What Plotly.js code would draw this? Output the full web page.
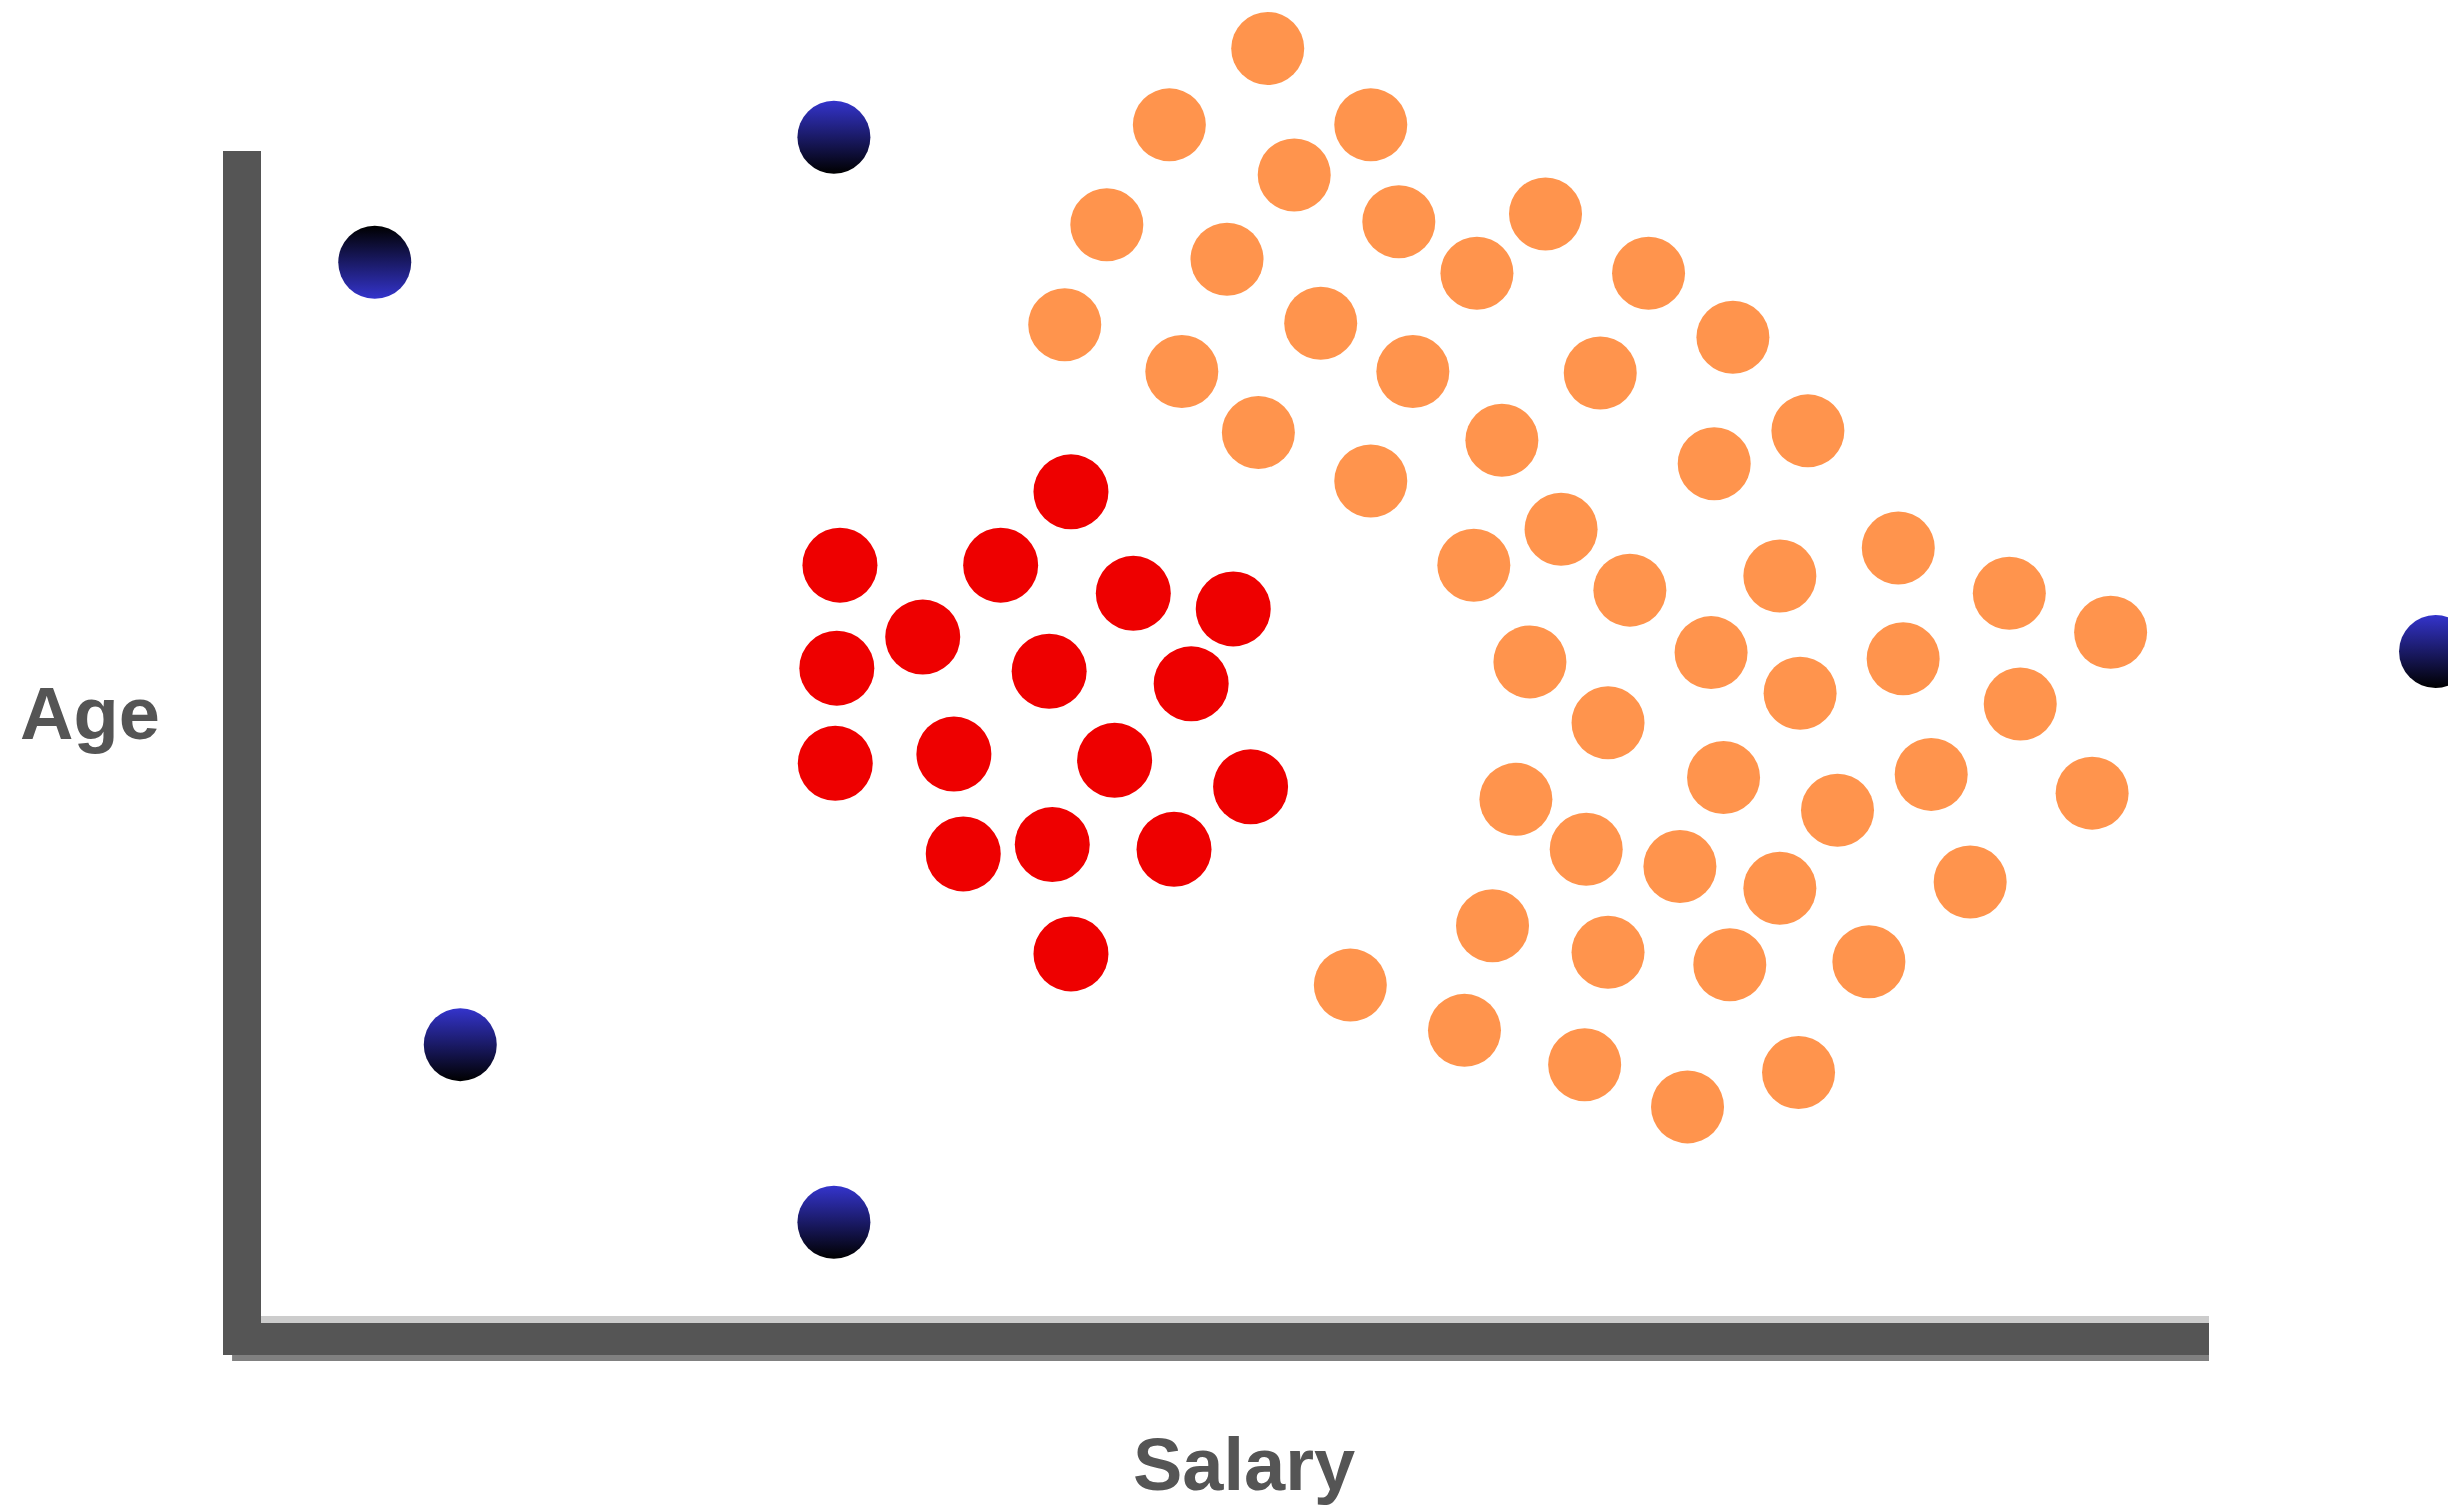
<!DOCTYPE html>
<html>
<head>
<meta charset="utf-8">
<script src="https://cdn.plot.ly/plotly-3.0.1.min.js"></script>
<style>html,body{margin:0;padding:0;background:#fff;}#chart{width:2448px;height:1505px;}</style>
</head>
<body>
<div id="chart"></div>
<script>
// Salary (x) and Age (y), in relative units (no tick labels on the chart)
const orangeSalary = [51.68,46.63,56.97,53.04,43.42,49.59,58.41,65.94,62.42,71.23,41.26,54.40,75.56,47.27,59.13,68.75,51.20,63.70,79.41,74.60,56.97,66.74,62.26,84.05,70.27,77.97,89.75,94.95,65.14,74.44,84.30,79.01,90.31,69.15,75.08,85.74,64.42,80.93,94.00,68.03,72.84,77.97,87.74,63.22,69.15,75.40,82.54,55.92,61.78,67.95,78.93,73.23];
const orangeAge =    [108.75,102.23,102.23,97.96,93.70,90.77,93.97,94.63,89.57,89.57,85.18,85.31,84.11,81.18,81.18,81.05,75.98,75.32,76.12,73.32,71.85,67.73,64.66,66.13,62.53,63.73,62.26,58.93,56.41,57.20,56.67,53.74,52.81,51.21,46.54,46.81,44.68,43.75,45.21,40.42,38.95,37.09,37.62,33.89,31.63,30.56,30.83,28.83,24.97,22.04,21.37,18.44];

const redSalary = [41.58,29.72,37.97,44.78,49.91,33.97,29.56,40.46,47.75,29.48,35.57,43.82,50.80,36.05,40.62,46.87,41.58];
const redAge =    [70.92,64.66,64.66,62.26,60.93,58.53,55.87,55.61,54.54,47.75,48.54,48.01,45.75,40.02,40.82,40.42,31.49];

const blueSalary = [5.84,29.41,10.23,29.41,111.63];
const blueAge =    [90.50,101.17,23.75,8.59,57.30];
const blueShade =  ['top','bottom','bottom','bottom','bottom'];   // which side is dark

const xTitle = 'Salary';
const yTitle = 'Age';

const BLUE = '#3434CC', DARK = '#000000';
const blueFill = blueShade.map(s => s === 'top' ? DARK : BLUE);
const blueGrad = blueShade.map(s => s === 'top' ? BLUE : DARK);

const traces = [
  {type:'scatter', mode:'markers', x:orangeSalary, y:orangeAge, cliponaxis:false, hoverinfo:'skip',
   marker:{size:73, color:'#FF944D', line:{width:0}}},
  {type:'scatter', mode:'markers', x:redSalary, y:redAge, cliponaxis:false, hoverinfo:'skip',
   marker:{size:75, color:'#EE0000', line:{width:0}}},
  {type:'scatter', mode:'markers', x:blueSalary, y:blueAge, cliponaxis:false, hoverinfo:'skip',
   marker:{size:73, color:blueFill, line:{width:0}, gradient:{type:'vertical', color:blueGrad}}},
  // empty trace so the framed subplot (axis lines) is created
  {type:'scatter', mode:'markers', x:[], y:[], xaxis:'x2', yaxis:'y2', hoverinfo:'skip'}
];

const axisFont = {family:'Arial, "Liberation Sans", sans-serif', size:74, color:'#555555'};

const layout = {
  width:2448, height:1505,
  margin:{l:0, r:0, t:0, b:0, pad:0},
  paper_bgcolor:'#ffffff', plot_bgcolor:'rgba(0,0,0,0)',
  showlegend:false,
  // full-figure data axes (markers extend beyond the framed area)
  xaxis:{domain:[0,1], range:[-13.398,112.269], visible:false, fixedrange:true},
  yaxis:{domain:[0,1], range:[-15.529,112.884], visible:false, fixedrange:true},
  // framed axes: thick gray L-shaped axis lines
  xaxis2:{domain:[0.10662,0.90237], range:[0,100], anchor:'y2', showline:true, linewidth:32, linecolor:'#555555',
          showgrid:false, zeroline:false, showticklabels:false, ticks:'', fixedrange:true},
  yaxis2:{domain:[0.12093,0.89967], range:[-0.3,99.7], anchor:'x2', showline:true, linewidth:38, linecolor:'#555555',
          showgrid:false, zeroline:true, zerolinecolor:'#CCCCCC', zerolinewidth:7,
          showticklabels:false, ticks:'', fixedrange:true},
  shapes:[
    {type:'line', xref:'paper', yref:'paper', x0:0.0948, x1:0.90237, y0:0.09767, y1:0.09767,
     line:{color:'#808080', width:6}, layer:'below'}
  ],
  annotations:[
    {text:'<b>'+yTitle+'</b>', xref:'paper', yref:'paper', x:0.03676, y:0.5256,
     xanchor:'center', yanchor:'middle', showarrow:false, font:axisFont},
    {text:'<b>'+xTitle+'</b>', xref:'paper', yref:'paper', x:0.5082, y:0.0267,
     xanchor:'center', yanchor:'middle', showarrow:false, font:axisFont}
  ]
};

Plotly.newPlot('chart', traces, layout, {displayModeBar:false, staticPlot:true});
</script>
</body>
</html>
